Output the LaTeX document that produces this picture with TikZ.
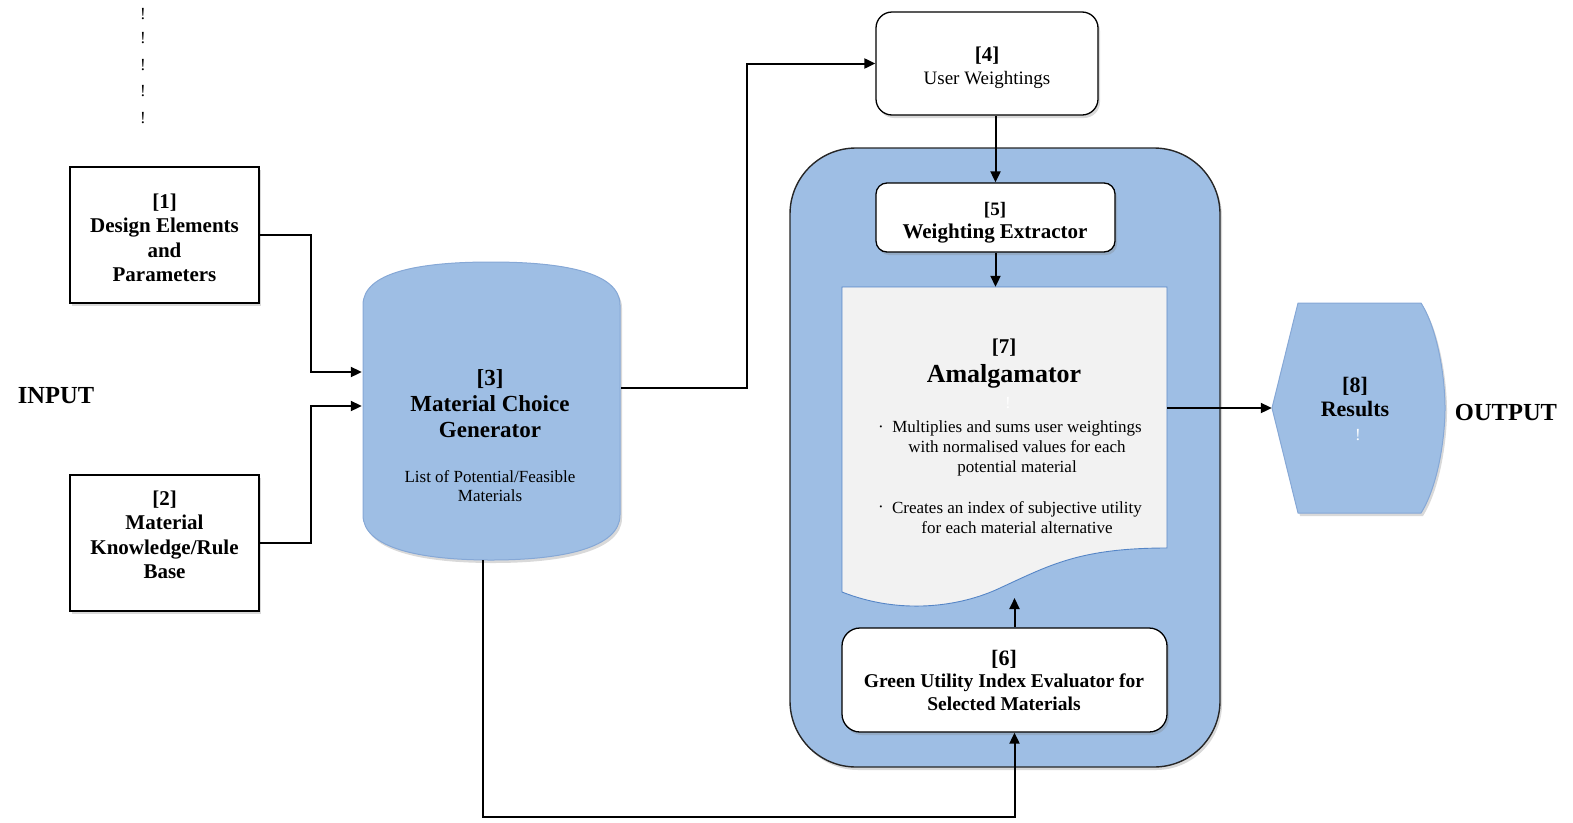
\documentclass[tikz,border=0pt]{standalone}
\usepackage{fontspec}
\setmainfont{Liberation Serif}
\usetikzlibrary{arrows.meta,shadows,calc}
\definecolor{panelblue}{HTML}{9EBEE4}
\definecolor{edgeblue}{HTML}{86A8D6}
\definecolor{docgray}{HTML}{F2F2F2}
\definecolor{docline}{HTML}{5585C6}

% font helpers: size/leading
\newcommand\fbold[2]{\fontsize{#1}{#2}\selectfont\bfseries}
\newcommand\fplain[2]{\fontsize{#1}{#2}\selectfont\mdseries}

\begin{document}
\begin{tikzpicture}[x=1pt,y=-1pt,
  arr/.style={line width=2pt,-{Triangle[length=11pt,width=10pt]}},
  softshadow/.style={drop shadow={opacity=0.3,shadow xshift=2pt,shadow yshift=-3pt}},
  plainbox/.style={draw=black,line width=1.3pt,fill=white,softshadow},
  roundbox/.style={plainbox,rounded corners=16pt},
  ghost/.style={inner sep=0pt},
]
\useasboundingbox (0,0) rectangle (1573,822);

% stray marks at the top left
\foreach \i/\yy in {1/14,2/38,3/65,4/91,5/118}
  \node[font=\fplain{17}{20}] (bang\i) at (143,\yy) {!};

% inputs
\node[plainbox,minimum width=189pt,minimum height=136pt] (b1) at (164.5,235) {};
\node[align=center,font=\fbold{21}{24.5}] (b1txt) at (164.5,238)
  {[1]\\Design Elements\\and\\Parameters};
\node[plainbox,minimum width=189pt,minimum height=136pt] (b2) at (164.5,543) {};
\node[align=center,font=\fbold{21}{24.5}] (b2txt) at (164.5,535)
  {[2]\\Material\\Knowledge/Rule\\Base};
\node[font=\fbold{24.5}{28}] (inlbl) at (56,396) {INPUT};

% material choice generator (drum)
\path[fill=panelblue,draw=edgeblue,line width=1pt,softshadow]
  (363,305) .. controls (363,272) and (420,262) .. (491,262)
  .. controls (562,262) and (620,272) .. (620,305)
  -- (620,515) .. controls (620,548) and (562,560) .. (491,560)
  .. controls (420,560) and (363,548) .. (363,515) -- cycle;
\node[ghost,minimum width=259pt,minimum height=298pt] (mcg) at (491.5,411) {};
\node[align=center,font=\fbold{23}{26}] (mcgtitle) at (490,404)
  {[3]\\Material Choice\\Generator};
\node[align=center,font=\fplain{17}{19.5}] (mcglist) at (490,486)
  {List of Potential/Feasible\\Materials};

% user weightings
\node[roundbox,minimum width=222pt,minimum height=103pt] (b4) at (987,63.5) {};
\node[font=\fbold{21}{24}] (b4num) at (987,56) {[4]};
\node[font=\fplain{19}{23}] (b4txt) at (987,80) {User Weightings};

% evaluation engine panel
\node[draw=black!85,line width=1.4pt,fill=panelblue,rounded corners=66pt,
      minimum width=430pt,minimum height=619pt,softshadow] (eng) at (1005,457.5) {};

% weighting extractor
\node[roundbox,rounded corners=11pt,minimum width=239pt,minimum height=69pt] (b5) at (995.5,217.5) {};
\node[font=\fbold{19}{22}] (b5num) at (995,210) {[5]};
\node[font=\fbold{21}{24}] (b5txt) at (995,234) {Weighting Extractor};

% amalgamator (document sheet)
\path[fill=docgray,draw=docline,line width=0.9pt]
  (842,287) -- (1167,287) -- (1167,548)
  .. controls (1080,548) and (1050,565) .. (1000,588)
  .. controls (960,607) and (900,615) .. (842,592) -- cycle;
\node[ghost,minimum width=325pt,minimum height=261pt] (amal) at (1004.5,417.5) {};
\node[font=\fbold{21}{24}] (amalnum) at (1004,348) {[7]};
\node[font=\fbold{26}{30}] (amaltitle) at (1004,376) {Amalgamator};
\node[text=white,font=\fplain{17}{20}] (amalbang) at (1008,403) {!};
\node[font=\fplain{17}{20}] (dot1) at (881,429) {·};
\node[font=\fplain{17}{20}] (dot2) at (881,509) {·};
\node[align=center,font=\fplain{17}{20}] (bul1) at (1017,448)
  {Multiplies and sums user weightings\\with normalised values for each\\potential material};
\node[align=center,font=\fplain{17}{20}] (bul2) at (1017,518)
  {Creates an index of subjective utility\\for each material alternative};

% green utility index evaluator
\node[roundbox,rounded corners=18pt,minimum width=325pt,minimum height=104pt] (b6) at (1004.5,680) {};
\node[font=\fbold{22}{24}] (b6num) at (1004,659) {[6]};
\node[align=center,font=\fbold{19.5}{22.5}] (b6txt) at (1004,692)
  {Green Utility Index Evaluator for\\Selected Materials};

% results
\path[fill=panelblue,draw=edgeblue,line width=1pt,softshadow]
  (1298,303) -- (1421,303) .. controls (1438,330) and (1445,378) .. (1445,408)
  .. controls (1445,438) and (1438,486) .. (1421,513)
  -- (1298,513) -- (1272,408) -- cycle;
\node[ghost,minimum width=173pt,minimum height=210pt] (res) at (1358.5,408) {};
\node[align=center,font=\fbold{22}{24}] (restxt) at (1355,397) {[8]\\Results};
\node[text=white,font=\fplain{17}{20}] (resbang) at (1358,435) {!};
\node[font=\fbold{24.5}{28}] (outlbl) at (1506,413) {OUTPUT};

% connectors
\coordinate (wavetip) at (1014.5,598);
\draw[arr] (b1.east) -- ++(51,0) |- ([yshift=39pt]mcg.west);
\draw[arr] (b2.east) -- ++(51,0) |- ([yshift=5pt]mcg.west);
\draw[arr] ([yshift=23pt]mcg.east) -- ++(126,0) |- (b4.west);
\draw[arr] (b4.south -| b5.north) -- (b5.north);
\draw[arr] (b5.south) -- (b5.south |- amal.north);
\draw[arr] (amal.east |- res.west) -- (res.west);
\draw[arr] ([xshift=10pt]b6.north) -- (wavetip);
\draw[arr] ([xshift=-9pt]mcg.south) -- ++(0,257) -| ([xshift=10pt]b6.south);
\end{tikzpicture}
\end{document}
